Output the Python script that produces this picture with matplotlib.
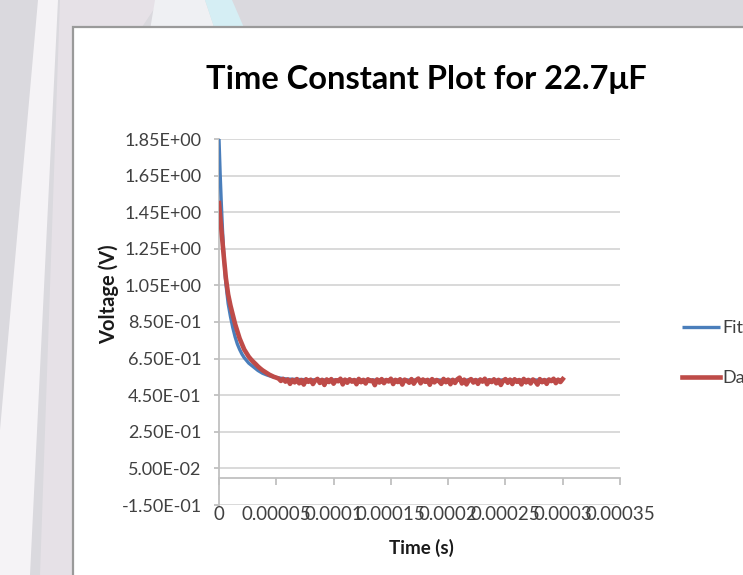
"""Time constant plot (RC discharge) for the 22.7 uF capacitor, Excel-style."""

import matplotlib.pyplot as plt
import numpy as np
from matplotlib.patches import Polygon, Rectangle
from matplotlib.ticker import FuncFormatter

plt.rcParams["font.family"] = ["Lato", "DejaVu Sans"]

# ---- data (time in microseconds, voltage in V) ----
fit_t_us = [0, 1, 2, 3, 4, 5, 6, 8, 10, 12, 14, 16, 18, 20, 22, 24, 26, 28,
            30, 34, 38, 42, 46, 50, 60, 80, 120, 200, 300]
fit_v = [1.85, 1.66, 1.50, 1.36, 1.24, 1.14, 1.06, 0.95, 0.88, 0.82, 0.77,
         0.73, 0.70, 0.675, 0.655, 0.64, 0.625, 0.615, 0.605, 0.585, 0.57,
         0.56, 0.552, 0.546, 0.538, 0.534, 0.533, 0.533, 0.533]

data_step_us = 2
data_v = [
    1.50, 1.36, 1.22, 1.09, 1.00, 0.94, 0.89, 0.84, 0.80, 0.76,
    0.73, 0.70, 0.68, 0.66, 0.645, 0.632, 0.62, 0.607, 0.596, 0.586,
    0.578, 0.57, 0.562, 0.556, 0.55, 0.546,
    0.541, 0.528, 0.539, 0.524, 0.536, 0.512, 0.534, 0.520, 0.538, 0.515,
    0.533, 0.508, 0.537, 0.523, 0.535, 0.511, 0.531, 0.539, 0.517, 0.534,
    0.506, 0.536, 0.522, 0.538, 0.513, 0.532, 0.526, 0.540, 0.509, 0.535,
    0.518, 0.537, 0.524, 0.533, 0.510, 0.539, 0.521, 0.534, 0.514, 0.537,
    0.527, 0.531, 0.505, 0.536, 0.519, 0.538, 0.516, 0.533, 0.525, 0.540,
    0.511, 0.534, 0.522, 0.537, 0.508, 0.535, 0.529, 0.518, 0.538, 0.513,
    0.532, 0.541, 0.515, 0.536, 0.523, 0.534, 0.507, 0.538, 0.520, 0.533,
    0.526, 0.512, 0.539, 0.521, 0.535, 0.510, 0.534, 0.517, 0.537, 0.546,
    0.514, 0.535, 0.509, 0.531, 0.538, 0.519, 0.533, 0.512, 0.536, 0.524,
    0.540, 0.510, 0.532, 0.522, 0.537, 0.515, 0.534, 0.506, 0.529, 0.538,
    0.518, 0.535, 0.511, 0.537, 0.523, 0.533, 0.509, 0.539, 0.520, 0.534,
    0.514, 0.536, 0.526, 0.508, 0.538, 0.521, 0.533, 0.512, 0.536, 0.527,
    0.540, 0.516, 0.535, 0.522, 0.538,
]

xticks = [0, 0.00005, 0.0001, 0.00015, 0.0002, 0.00025, 0.0003, 0.00035]
yticks = [-0.15, 0.05, 0.25, 0.45, 0.65, 0.85, 1.05, 1.25, 1.45, 1.65, 1.85]
series_labels = ["Fit", "Data"]
series_colors = ["#4a7ebb", "#be4b48"]

fit_t = np.array(fit_t_us) * 1e-6
data_t = np.arange(len(data_v)) * data_step_us * 1e-6

# ---- figure / slide background ----
W, H = 743, 575
fig = plt.figure(figsize=(W / 100, H / 100), dpi=100, facecolor="#dad9de")


def px(x, y):
    return (x / W, 1 - y / H)


bg_shapes = [
    ([(60, 0), (160, 0), (140, 30), (73, 575), (40, 575)], "#e6e1e7"),
    ([(38, 0), (58, 0), (30, 575), (0, 575), (0, 430)], "#f5f3f6"),
    ([(155, 0), (205, 0), (215, 30), (150, 30)], "#eff0f3"),
    ([(205, 0), (232, 0), (245, 30), (215, 30)], "#d5eef4"),
]
for pts, col in bg_shapes:
    fig.add_artist(Polygon([px(*p) for p in pts], closed=True, facecolor=col,
                           edgecolor="none", transform=fig.transFigure,
                           zorder=-20))

fig.add_artist(Rectangle(px(73, 600), 1.0, (600 - 27) / H, facecolor="white",
                         edgecolor="#9a9a9a", lw=1.6, transform=fig.transFigure,
                         zorder=-10))

# ---- plot area ----
ax = fig.add_axes([219 / W, 1 - 505 / H, (620 - 219) / W, (505 - 139) / H])
ax.set_facecolor("none")

ax.plot(fit_t, fit_v, color=series_colors[0], lw=2.4, label=series_labels[0],
        solid_capstyle="butt", zorder=3)
ax.plot(data_t, data_v, color=series_colors[1], lw=3.3, label=series_labels[1],
        solid_joinstyle="round", zorder=4)

ax.set_xlim(0, 0.00035)
ax.set_ylim(-0.15, 1.85)
ax.set_xticks(xticks)
ax.set_yticks(yticks)
ax.xaxis.set_major_formatter(
    FuncFormatter(lambda v, _: f"{v:.5f}".rstrip("0").rstrip(".")))
ax.yaxis.set_major_formatter(FuncFormatter(lambda v, _: f"{v:.2E}"))

ax.grid(axis="y", color="#d9d9d9", lw=1.4, zorder=0)
for side in ["top", "right", "bottom"]:
    ax.spines[side].set_visible(False)
ax.spines["left"].set_color("#c0c0c0")
ax.spines["left"].set_linewidth(1.3)

ax.tick_params(axis="y", direction="out", length=3.5, width=1.3,
               color="#c0c0c0", labelcolor="#404040", labelsize=13, pad=9)
ax.tick_params(axis="x", length=0, labelcolor="#404040", labelsize=13.5, pad=1)

# horizontal axis crosses at V = 0
x_axis = ax.secondary_xaxis(0.15 / 2.0)
x_axis.set_xticks(xticks)
x_axis.tick_params(direction="out", length=5, width=1.3, color="#c0c0c0",
                   labelbottom=False)
x_axis.spines["bottom"].set_color("#c0c0c0")
x_axis.spines["bottom"].set_linewidth(1.3)

# ---- texts ----
fig.text(*px(426, 79), "Time Constant Plot for 22.7\u03bcF", ha="center",
         va="center", fontsize=23.5, weight="bold", color="black")
fig.text(*px(109, 294), "Voltage (V)", rotation=90, ha="center", va="center",
         fontsize=14.5, weight="bold", color="#1a1a1a")
fig.text(*px(421, 548), "Time (s)", ha="center", va="center",
         fontsize=13.5, weight="bold", color="#1a1a1a")

leg = ax.legend(loc="upper left", bbox_to_anchor=px(682, 320),
                bbox_transform=fig.transFigure, frameon=False, borderpad=0,
                borderaxespad=0, handlelength=2.1, handletextpad=0.15,
                labelspacing=1.9, fontsize=13)
for txt in leg.get_texts():
    txt.set_color("#404040")

fig.savefig("out.png", dpi=100, facecolor=fig.get_facecolor())
